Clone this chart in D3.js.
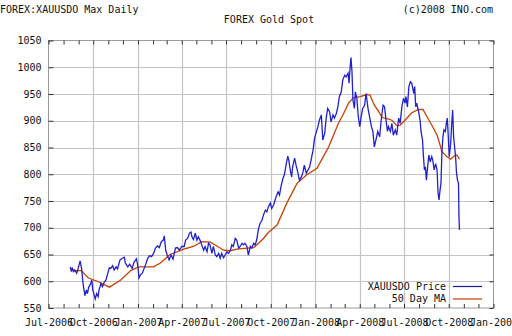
<!DOCTYPE html>
<html><head><meta charset="utf-8">
<script src="https://cdn.jsdelivr.net/npm/d3@7"></script>
<style>
html,body{margin:0;padding:0;background:#fff;}
svg{display:block;}
text{font-family:"DejaVu Sans Mono",monospace;font-size:10px;fill:#111;}
</style></head>
<body>
<svg id="c" width="512" height="336"></svg>
<script>
// ---- data ----
const priceDates = ["2006-08-15","2006-08-17","2006-08-19","2006-08-22","2006-08-24","2006-08-28","2006-08-31","2006-09-04","2006-09-07","2006-09-10","2006-09-12","2006-09-14","2006-09-17","2006-09-19","2006-09-22","2006-09-25","2006-09-28","2006-09-30","2006-10-03","2006-10-05","2006-10-08","2006-10-11","2006-10-13","2006-10-17","2006-10-20","2006-10-24","2006-10-27","2006-10-30","2006-11-03","2006-11-06","2006-11-10","2006-11-13","2006-11-17","2006-11-20","2006-11-25","2006-11-30","2006-12-04","2006-12-06","2006-12-11","2006-12-15","2006-12-20","2006-12-24","2006-12-29","2007-01-01","2007-01-03","2007-01-06","2007-01-10","2007-01-14","2007-01-17","2007-01-21","2007-01-25","2007-01-29","2007-02-02","2007-02-06","2007-02-10","2007-02-14","2007-02-18","2007-02-22","2007-02-24","2007-02-27","2007-03-03","2007-03-06","2007-03-10","2007-03-14","2007-03-19","2007-03-23","2007-03-27","2007-04-01","2007-04-06","2007-04-09","2007-04-13","2007-04-17","2007-04-20","2007-04-22","2007-04-25","2007-04-29","2007-05-02","2007-05-05","2007-05-09","2007-05-12","2007-05-16","2007-05-19","2007-05-23","2007-05-26","2007-05-29","2007-06-02","2007-06-05","2007-06-09","2007-06-12","2007-06-16","2007-06-19","2007-06-22","2007-06-26","2007-06-29","2007-07-03","2007-07-06","2007-07-10","2007-07-13","2007-07-16","2007-07-20","2007-07-23","2007-07-27","2007-07-30","2007-08-03","2007-08-06","2007-08-09","2007-08-13","2007-08-16","2007-08-20","2007-08-23","2007-08-27","2007-08-30","2007-09-02","2007-09-06","2007-09-09","2007-09-13","2007-09-16","2007-09-20","2007-09-23","2007-09-26","2007-09-30","2007-10-03","2007-10-07","2007-10-12","2007-10-16","2007-10-19","2007-10-22","2007-10-26","2007-10-29","2007-11-02","2007-11-05","2007-11-07","2007-11-10","2007-11-13","2007-11-15","2007-11-19","2007-11-22","2007-11-26","2007-11-29","2007-12-03","2007-12-06","2007-12-09","2007-12-13","2007-12-16","2007-12-20","2007-12-23","2007-12-27","2007-12-30","2008-01-02","2008-01-06","2008-01-09","2008-01-13","2008-01-16","2008-01-20","2008-01-23","2008-01-26","2008-01-30","2008-02-02","2008-02-06","2008-02-09","2008-02-13","2008-02-16","2008-02-19","2008-02-23","2008-02-26","2008-03-01","2008-03-04","2008-03-08","2008-03-10","2008-03-12","2008-03-14","2008-03-16","2008-03-18","2008-03-21","2008-03-23","2008-03-26","2008-03-29","2008-04-01","2008-04-04","2008-04-07","2008-04-11","2008-04-14","2008-04-18","2008-04-21","2008-04-25","2008-04-28","2008-05-01","2008-05-05","2008-05-08","2008-05-12","2008-05-15","2008-05-19","2008-05-22","2008-05-25","2008-05-28","2008-05-30","2008-06-03","2008-06-06","2008-06-09","2008-06-13","2008-06-16","2008-06-20","2008-06-23","2008-06-27","2008-06-30","2008-07-03","2008-07-05","2008-07-08","2008-07-11","2008-07-14","2008-07-17","2008-07-21","2008-07-23","2008-07-25","2008-07-27","2008-07-31","2008-08-03","2008-08-05","2008-08-08","2008-08-10","2008-08-12","2008-08-14","2008-08-16","2008-08-18","2008-08-21","2008-08-24","2008-08-27","2008-08-29","2008-09-01","2008-09-04","2008-09-07","2008-09-09","2008-09-11","2008-09-13","2008-09-15","2008-09-17","2008-09-19","2008-09-21","2008-09-24","2008-09-26","2008-09-28","2008-09-30","2008-10-02","2008-10-05","2008-10-07","2008-10-09","2008-10-11","2008-10-13","2008-10-15","2008-10-17","2008-10-19","2008-10-21","2008-10-22","2008-10-23"];
const priceValues = [627,618,624,618,621,615,624,638,624,596,584,573,584,577,590,594,602,584,574,567,577,571,584,596,590,599,602,612,625,624,629,621,627,623,640,643,645,634,627,632,624,636,642,627,606,612,615,625,632,643,648,646,652,662,666,663,674,677,685,658,646,640,649,641,662,663,658,665,665,677,680,690,692,683,678,690,677,683,676,668,658,665,655,671,668,652,665,649,646,652,643,652,644,649,655,652,658,668,665,680,677,662,665,671,668,671,665,649,665,662,671,668,677,699,708,714,724,733,730,739,746,736,743,758,767,761,777,792,799,820,834,827,808,795,814,830,817,802,789,795,803,817,802,807,814,827,845,867,877,889,901,911,864,877,905,923,917,898,911,905,914,926,945,954,976,985,982,989,970,998,1018,992,939,923,954,942,908,889,908,923,929,951,923,908,889,880,851,867,880,870,901,929,926,901,880,889,880,895,873,883,873,905,895,929,942,933,945,926,964,973,970,951,964,926,933,917,901,880,864,833,808,814,789,808,836,823,833,827,808,820,808,764,752,770,783,842,870,883,880,895,905,870,833,858,892,920,870,851,833,802,789,783,721,696];
const maDates = ["2006-08-15","2006-08-19","2006-09-06","2006-09-21","2006-10-09","2006-11-03","2006-11-26","2006-12-17","2007-01-02","2007-02-02","2007-02-16","2007-03-08","2007-04-05","2007-04-25","2007-05-12","2007-05-30","2007-06-12","2007-06-26","2007-07-10","2007-07-23","2007-08-13","2007-08-27","2007-09-06","2007-09-16","2007-09-26","2007-10-14","2007-11-03","2007-11-24","2007-12-14","2008-01-04","2008-01-17","2008-01-28","2008-02-07","2008-02-17","2008-02-28","2008-03-09","2008-03-19","2008-04-02","2008-04-16","2008-04-22","2008-05-01","2008-05-10","2008-05-17","2008-05-27","2008-06-06","2008-06-16","2008-06-23","2008-07-03","2008-07-17","2008-07-31","2008-08-09","2008-08-17","2008-08-27","2008-09-07","2008-09-13","2008-09-17","2008-09-27","2008-10-05","2008-10-12","2008-10-18","2008-10-23"];
const maValues = [625,620,620,606,600,589,602,620,627,627,634,650,660,665,674,673,666,658,657,660,662,663,671,680,691,705,746,783,799,811,833,851,873,895,914,933,943,945,949,948,929,917,906,904,901,891,892,901,915,921,921,908,892,873,855,842,833,828,834,836,828];
const yTicks = [550,600,650,700,750,800,850,900,950,1000,1050];
const xTickDates = ["2006-07-01","2006-10-01","2007-01-01","2007-04-01","2007-07-01","2007-10-01","2008-01-01","2008-04-01","2008-07-01","2008-10-01","2009-01-01"];
const xTickLabels = ["Jul-2006","Oct-2006","Jan-2007","Apr-2007","Jul-2007","Oct-2007","Jan-2008","Apr-2008","Jul-2008","Oct-2008","Jan-2009"];
const seriesNames = ["XAUUSDO Price","50 Day MA"];
const seriesColors = ["#2020cc","#c84000"];

// ---- chart ----
const svg = d3.select("#c");
const L = 48.5, R = 493.5, T = 40.5, B = 308;
const parse = d3.utcParse("%Y-%m-%d");
const x = d3.scaleUtc().domain([parse("2006-07-01"), parse("2009-01-01")]).range([L, R]);
const y = d3.scaleLinear().domain([550, 1050]).range([B, T]);

// header texts
svg.append("text").attr("x", 0).attr("y", 13).text("FOREX:XAUUSDO Max Daily");
svg.append("text").attr("x", 493).attr("y", 13).attr("text-anchor", "end").text("(c)2008 INO.com");
svg.append("text").attr("x", 269).attr("y", 22.5).attr("text-anchor", "middle").text("FOREX Gold Spot");

// gridlines
const grid = svg.append("g").attr("stroke", "#c4c4c4").attr("stroke-width", 1.2);
grid.selectAll("line.h").data(yTicks.slice(1, -1)).join("line")
  .attr("x1", L).attr("x2", R).attr("y1", d => Math.round(y(d)) + 0.5).attr("y2", d => Math.round(y(d)) + 0.5);
grid.selectAll("line.v").data(xTickDates.slice(1, -1).map(parse)).join("line")
  .attr("y1", T).attr("y2", B).attr("x1", d => Math.round(x(d)) + 0.5).attr("x2", d => Math.round(x(d)) + 0.5);

// frame
svg.append("rect").attr("x", L).attr("y", T).attr("width", R - L).attr("height", B - T)
  .attr("fill", "none").attr("stroke", "#9a9a9a").attr("stroke-width", 1);

const months = d3.utcMonth.range(parse("2006-07-01"), parse("2009-01-02"));
const styleAxis = g => { g.select(".domain").remove(); g.selectAll("line").attr("stroke", "#333"); };

svg.append("g").attr("transform", `translate(0,${B})`)
  .call(d3.axisBottom(x).tickValues(months).tickSizeInner(-4).tickSizeOuter(0).tickFormat(""))
  .call(styleAxis);
svg.append("g").attr("transform", `translate(0,${T})`)
  .call(d3.axisTop(x).tickValues(months).tickSizeInner(-4).tickSizeOuter(0).tickFormat(""))
  .call(styleAxis);
const xl = svg.append("g").attr("transform", `translate(0,${B})`)
  .call(d3.axisBottom(x).tickValues(xTickDates.map(parse)).tickSize(0).tickPadding(11)
    .tickFormat((d, i) => xTickLabels[i]));
xl.select(".domain").remove();
xl.attr("font-family", null).attr("font-size", null);
xl.selectAll("text").attr("fill", "#111");

const yl = svg.append("g").attr("transform", `translate(${L},0)`)
  .call(d3.axisLeft(y).tickValues(yTicks).tickSizeInner(-5).tickSizeOuter(0).tickPadding(7)
    .tickFormat(d3.format("d")));
yl.call(styleAxis);
yl.attr("font-family", null).attr("font-size", null);
yl.selectAll("text").attr("fill", "#111");

svg.append("g").attr("transform", `translate(${R},0)`)
  .call(d3.axisRight(y).tickValues(yTicks).tickSizeInner(-4).tickSizeOuter(0).tickFormat(""))
  .call(styleAxis);

// series
const priceData = priceDates.map((d, i) => [parse(d), priceValues[i]]);
const maData = maDates.map((d, i) => [parse(d), maValues[i]]);
const line = d3.line().x(d => x(d[0])).y(d => y(d[1]));
svg.append("path").datum(maData).attr("d", line).attr("fill", "none")
  .attr("stroke", seriesColors[1]).attr("stroke-width", 1.3);
svg.append("path").datum(priceData).attr("d", line).attr("fill", "none")
  .attr("stroke", seriesColors[0]).attr("stroke-width", 1.3);

// legend
const lg = svg.append("g");
seriesNames.forEach((n, i) => {
  const yy = 286 + i * 12.5;
  lg.append("text").attr("x", 446).attr("y", yy).attr("dy", "0.35em").attr("text-anchor", "end").text(n);
  lg.append("line").attr("x1", 453).attr("x2", 482).attr("y1", yy + 0.5).attr("y2", yy + 0.5)
    .attr("stroke", i === 0 ? "#1a1a9a" : seriesColors[1]).attr("stroke-width", 1.2);
});
</script>
</body></html>
